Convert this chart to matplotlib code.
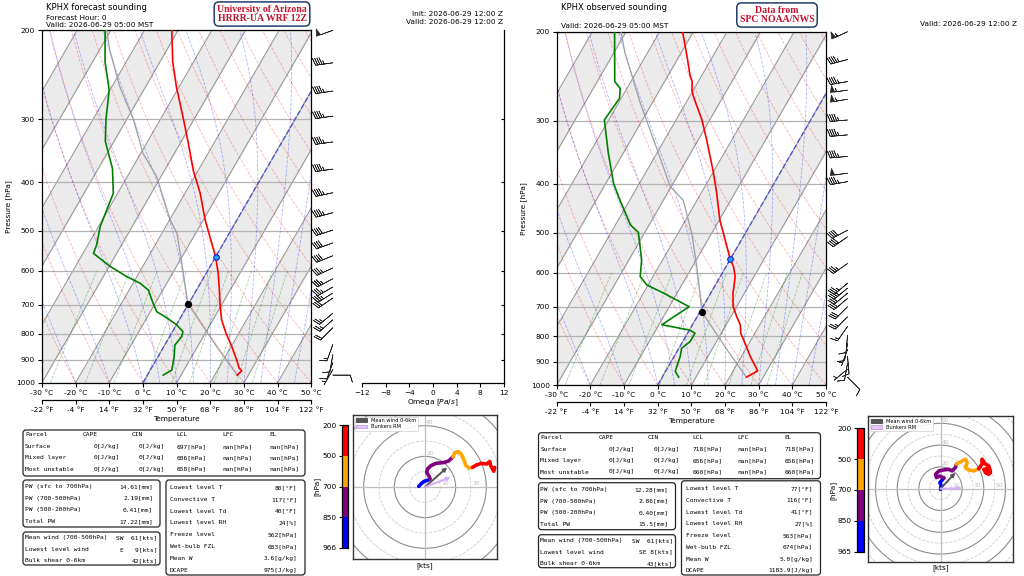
import numpy as np
import matplotlib
matplotlib.use('Agg')
import matplotlib.pyplot as plt
import matplotlib.transforms as mtransforms
from matplotlib.patches import FancyBboxPatch, Patch, Circle
from matplotlib.colors import ListedColormap, BoundaryNorm
from matplotlib.cm import ScalarMappable
from matplotlib.ticker import NullLocator

# ---------------- data ----------------
# forecast sounding (left)
p_T_fcst = [966, 947, 936, 901, 848, 798, 751, 700, 655, 607, 563, 514, 475, 421, 379, 335, 300, 259, 231, 200]
T_fcst = [26.7, 27.3, 26.1, 23.9, 20.2, 16.2, 12.6, 9.5, 6.8, 3.6, 0.0, -5.1, -9.5, -15.5, -21.5, -27.6, -33.2, -40.8, -46.2, -51.9]
p_Td_fcst = [966, 944, 888, 842, 810, 792, 768, 744, 723, 696, 655, 635, 616, 588, 554, 533, 490, 421, 376, 332, 300, 263, 231, 200]
Td_fcst = [4.7, 6.4, 4.8, 3.0, 3.6, 3.1, 0.1, -4.0, -8.1, -10.6, -14.3, -17.9, -23.0, -29.7, -36.9, -37.4, -39.5, -41.3, -45.8, -52.6, -56.2, -60.2, -66.3, -71.7]
p_par_fcst = [966, 850, 780, 697, 579, 505, 475, 390, 351, 300, 259, 219, 200]
T_par_fcst = [26.7, 15.9, 8.9, -0.2, -9.0, -15.6, -19.9, -31.3, -39.3, -48.1, -57.6, -66.9, -71.2]
lcl_fcst = (697, -0.2)
frz_fcst = (562, 0.0)

# observed sounding (right)
p_T_obs = [965, 938, 878, 827, 790, 760, 733, 700, 658, 639, 610, 583, 564, 501, 472, 418, 379, 328, 299, 269, 261, 251, 244, 224, 200]
T_obs = [25.0, 27.3, 22.6, 18.8, 15.8, 14.2, 11.8, 9.0, 6.6, 5.8, 4.4, 2.2, 0.0, -6.5, -9.8, -15.3, -20.0, -27.4, -32.3, -38.8, -40.4, -41.8, -43.5, -47.6, -53.2]
p_Td_obs = [965, 940, 920, 878, 846, 820, 790, 779, 760, 700, 658, 634, 610, 566, 499, 482, 431, 399, 348, 299, 271, 259, 251, 200]
Td_obs = [4.9, 2.9, 2.5, 1.8, 0.8, 2.2, 2.2, 0.2, -9.1, -4.1, -14.0, -20.4, -23.8, -26.2, -31.9, -35.6, -42.9, -47.7, -54.4, -61.3, -60.5, -62.0, -64.8, -73.4]
p_par_obs = [965, 850, 718, 583, 501, 431, 405, 348, 277, 221, 200]
T_par_obs = [25.0, 14.4, 0.7, -8.7, -15.9, -24.1, -30.3, -39.5, -53.5, -66.5, -71.5]
lcl_obs = (718, 0.7)
frz_obs = (563, 0.0)

# wind barbs
barb_p_fcst = [200, 232, 264, 296, 333, 377, 420, 460, 498, 528, 560, 592, 622, 646, 664, 679, 728, 750, 778, 840, 880, 912, 942, 966]
barb_spd_fcst = [50, 45, 45, 45, 45, 45, 45, 45, 40, 40, 40, 35, 35, 35, 35, 30, 25, 25, 20, 15, 10, 10, 5, 9]
barb_dir_fcst = [250, 262, 262, 262, 262, 262, 258, 255, 252, 250, 248, 245, 242, 240, 238, 235, 230, 228, 225, 200, 190, 200, 210, 90]
barb_p_obs = [200, 227, 251, 261, 272, 299, 320, 353, 381, 396, 494, 509, 575, 629, 643, 658, 674, 700, 733, 766, 797, 828, 850, 878, 905, 930, 965]
barb_spd_obs = [55, 45, 45, 55, 55, 45, 45, 45, 50, 45, 40, 40, 35, 35, 35, 30, 30, 30, 25, 15, 10, 10, 5, 10, 10, 5, 8]
barb_dir_obs = [245, 255, 260, 262, 260, 265, 265, 265, 262, 260, 242, 235, 235, 230, 230, 230, 230, 225, 225, 215, 185, 190, 200, 175, 190, 230, 135]

# hodographs (kts), layer 0 sfc-850, 1 850-700, 2 700-500, 3 500-200
hodo_u_fcst = [-4.1, -2.6, -0.4, 1.7, 3.2, 2.8, 1.1, 1.7, 3.8, 7.1, 12.4, 15.6, 18.2, 19.4, 21.6, 23.7, 25.2, 26.7, 28.8, 31.0, 33.8, 37.0, 40.2, 42.3, 42.9, 44.9, 45.5]
hodo_v_fcst = [0.4, 2.1, 3.8, 4.3, 5.3, 6.8, 9.6, 11.8, 13.9, 15.4, 16.0, 17.1, 19.7, 22.4, 23.1, 21.4, 18.2, 13.9, 12.4, 12.8, 14.5, 15.4, 15.0, 16.7, 13.9, 10.3, 12.8]
hodo_layer_fcst = [0, 0, 0, 0, 0, 1, 1, 1, 1, 1, 1, 1, 1, 2, 2, 2, 2, 2, 2, 2, 3, 3, 3, 3, 3, 3, 3]
hodo_u_obs = [0.0, 0.6, -0.6, 1.5, 3.1, -0.6, -3.7, -4.6, -1.5, 3.1, 7.7, 10.7, 13.8, 14.7, 18.4, 23.1, 24.6, 23.1, 26.2, 30.8, 35.3, 38.4, 38.4, 41.5, 44.6, 46.1, 44.6, 41.5, 40.0, 43.1, 46.1]
hodo_v_obs = [-0.6, 3.1, 5.6, 8.0, 9.9, 11.6, 10.2, 13.2, 16.3, 17.2, 17.8, 16.3, 19.4, 22.5, 24.6, 27.1, 24.0, 19.4, 17.2, 16.3, 18.4, 22.5, 27.1, 22.5, 20.9, 16.3, 13.2, 14.7, 17.8, 18.4, 14.7]
hodo_layer_obs = [0, 0, 0, 0, 0, 1, 1, 1, 1, 1, 1, 1, 1, 1, 2, 2, 2, 2, 2, 2, 2, 3, 3, 3, 3, 3, 3, 3, 3, 3, 3]
mean_wind_fcst = (14.5, 12.8)
bunkers_fcst = (16.7, 6.4)
mean_wind_obs = (13.8, 14.7)
bunkers_obs = (20.0, 0.6)
hodo_bounds_fcst = [200, 500, 700, 850, 966]
hodo_bounds_obs = [200, 500, 700, 850, 965]

# tables
parcel_names = ['Surface', 'Mixed layer', 'Most unstable']
cape_fcst = ['0', '0', '0']
cin_fcst = ['0', '0', '0']
lcl_p_fcst = ['697', '686', '658']
lfc_fcst = ['nan', 'nan', 'nan']
el_fcst = ['nan', 'nan', 'nan']
cape_obs = ['0', '0', '0']
cin_obs = ['0', '0', '0']
lcl_p_obs = ['718', '656', '660']
lfc_obs = ['nan', 'nan', 'nan']
el_obs = ['718', '656', '660']
pw_labels = ['PW (sfc to 700hPa)', 'PW (700-500hPa)', 'PW (500-200hPa)', 'Total PW']
pw_fcst = ['14.61', '2.19', '0.41', '17.22']
pw_obs = ['12.28', '2.86', '0.40', '15.5']
wind_labels = ['Mean wind (700-500hPa)', 'Lowest level wind', 'Bulk shear 0-6km']
wind_fcst = ['SW  61', 'E   9', '42']
wind_obs = ['SW  61', 'SE 8', '43']
stat_labels = ['Lowest level T', 'Convective T', 'Lowest level Td', 'Lowest level RH',
               'Freeze level', 'Wet-bulb FZL', 'Mean W', 'DCAPE']
stat_fcst = ['80[°F]', '117[°F]', '40[°F]', '24[%]', '562[hPa]', '683[hPa]', '3.6[g/kg]', '975[J/kg]']
stat_obs = ['77[°F]', '116[°F]', '41[°F]', '27[%]', '563[hPa]', '674[hPa]', '5.0[g/kg]', '1183.9[J/kg]']

# ---------------- figure ----------------
W, H = 1024, 576
fig = plt.figure(figsize=(W / 100, H / 100), dpi=100)
FS = 5.3


def px_axes(x0, y0, x1, y1, **kw):
    return fig.add_axes([x0 / W, 1 - y1 / H, (x1 - x0) / W, (y1 - y0) / H], **kw)


ov = fig.add_axes([0, 0, 1, 1], zorder=-5)
ov.set_xlim(0, W)
ov.set_ylim(H, 0)
ov.set_axis_off()


def moist_adiabat(t0, p):
    Rd, Cp, Lv, eps = 287.04, 1005.7, 2.501e6, 0.622

    def f(T, pp):
        es = 6.112 * np.exp(17.67 * (T - 273.15) / (T - 29.65))
        rs = eps * es / (pp - es)
        return (Rd * T + Lv * rs) / (pp * (Cp + Lv * Lv * rs * eps / (Rd * T * T)))

    T = t0 + 273.15
    out = [T]
    for i in range(1, len(p)):
        dp = p[i] - p[i - 1]
        k1 = f(T, p[i - 1])
        k2 = f(T + 0.5 * dp * k1, p[i - 1] + 0.5 * dp)
        T = T + dp * k2
        out.append(T)
    return np.array(out) - 273.15


def uv(spd, drc):
    d = np.deg2rad(np.array(drc, float))
    s = np.array(spd, float)
    return -s * np.sin(d), -s * np.cos(d)


def skewt(rect, pT, T, pTd, Td, ppar, Tpar, lcl, frz, bp, bs, bd):
    ax = px_axes(*rect)
    ax.set_yscale('log')
    ax.set_xlim(-30, 50)
    ax.set_ylim(1000, 200)
    b = ax.bbox
    st = ax.transData + mtransforms.Affine2D().translate(-b.x0, -b.y0).skew_deg(30, 0).translate(b.x0, b.y0)

    # shaded bands and isotherms
    for t1 in range(-100, 50, 20):
        ax.fill_betweenx([1000, 200], t1, t1 + 10, transform=st, color='#ebebeb', lw=0, zorder=0)
    for t in range(-100, 51, 10):
        ax.plot([t, t], [1000, 200], transform=st, color='0.6', lw=0.8, zorder=1)
    for pl in range(200, 1001, 100):
        ax.axhline(pl, color='0.7', lw=0.9, zorder=1)

    pl = np.linspace(1000, 200, 60)
    for th in np.arange(-40, 201, 10) + 273.15:
        ax.plot(th * (pl / 1000) ** 0.2857 - 273.15, pl, transform=st, color='red',
                ls='--', lw=0.6, alpha=0.3, zorder=1)
    for t0 in [-30, -20, -10, 0, 5, 10, 15, 20, 25, 30, 35, 40, 45, 50]:
        ax.plot(moist_adiabat(t0, pl), pl, transform=st, color='blue',
                ls='--', lw=0.6, alpha=0.3, zorder=1)
    pm = np.linspace(1000, 600, 20)
    for w in [0.0004, 0.001, 0.002, 0.004, 0.007, 0.01, 0.016, 0.024, 0.032]:
        e = pm * w / (0.622 + w)
        lg = np.log(e / 6.112)
        ax.plot(243.5 * lg / (17.67 - lg), pm, transform=st, color='green',
                ls='--', lw=0.6, alpha=0.35, zorder=1)
    ax.plot([0, 0], [1000, 200], transform=st, color='#4848d8', ls='--', lw=1.0, alpha=0.85, zorder=2)

    ax.plot(Tpar, ppar, transform=st, color='0.62', lw=0.9, zorder=3)
    ax.plot(T, pT, transform=st, color='red', lw=1.2, zorder=4)
    ax.plot(Td, pTd, transform=st, color='green', lw=1.2, zorder=4)
    ax.plot(lcl[1], lcl[0], 'o', transform=st, color='black', ms=4.2, zorder=5)
    ax.plot(frz[1], frz[0], 'o', transform=st, mfc='#1ea7ff', mec='#1a1ad0', mew=0.8, ms=4, zorder=5)

    u, v = uv(bs, bd)
    tb = mtransforms.blended_transform_factory(ax.transAxes, ax.transData)
    ax.barbs(np.full(len(bp), 1.08), bp, u, v, transform=tb, clip_on=False,
             length=5, linewidth=0.5, color='0.15')

    ax.set_yticks(range(200, 1001, 100), labels=[str(x) for x in range(200, 1001, 100)])
    ax.yaxis.set_minor_locator(NullLocator())
    ax.set_xticks(range(-30, 51, 10), labels=[f'{t} °C' for t in range(-30, 51, 10)])
    ax.tick_params(labelsize=FS, length=3, width=0.8, pad=2)
    ax.set_ylabel('Pressure [hPa]', fontsize=FS, labelpad=3)
    for s in ax.spines.values():
        s.set_linewidth(0.9)
    sec = ax.secondary_xaxis(-(17.3 / (rect[3] - rect[1])))
    sec.set_xticks(range(-30, 51, 10), labels=[f'{round(t * 9 / 5 + 32)} °F' for t in range(-30, 51, 10)])
    sec.tick_params(labelsize=FS, length=3, width=0.8, pad=2)
    sec.spines['bottom'].set_linewidth(0.9)
    sec.set_xlabel('Temperature', fontsize=FS, labelpad=2)
    return ax


def hodograph(rect, cbrect, rng, u, v, layer, mean, bunk, bounds):
    ax = px_axes(*rect)
    ax.set_xlim(-rng, rng)
    ax.set_ylim(-rng, rng)
    ax.set_xticks([])
    ax.set_yticks([])
    for s in ax.spines.values():
        s.set_linewidth(1.0)
        s.set_color('0.2')
    for r in range(10, int(rng * 1.5), 10):
        solid = r % 20 == 0
        ax.add_patch(Circle((0, 0), r, fill=False, ec='0.55' if solid else '0.8',
                            ls='-' if solid else '--', lw=0.8 if solid else 0.6, zorder=1))
        if r < rng:
            if solid:
                ax.text(0.8, r + 0.5, str(r), fontsize=4.3, color='0.75', ha='left', va='bottom', zorder=2)
            else:
                ax.text(r + 0.8, 0.5, str(r), fontsize=4.3, color='0.75', ha='left', va='bottom', zorder=2)
    ax.axhline(0, color='0.75', lw=0.9, zorder=1)
    ax.axvline(0, color='0.75', lw=0.9, zorder=1)
    u = np.array(u)
    v = np.array(v)
    layer = np.array(layer)
    cols = ['blue', 'purple', 'orange', 'red']
    prev = None
    for k in range(4):
        uu = list(u[layer == k])
        vv = list(v[layer == k])
        if prev is not None:
            uu = [prev[0]] + uu
            vv = [prev[1]] + vv
        ax.plot(uu, vv, color=cols[k], lw=2.6, solid_capstyle='round', solid_joinstyle='round', zorder=4)
        prev = (uu[-1], vv[-1])
    ax.annotate('', xy=mean, xytext=(0, 0), zorder=5,
                arrowprops=dict(arrowstyle='-|>', color='#555555', lw=1.4, mutation_scale=5, shrinkA=0, shrinkB=0))
    ax.annotate('', xy=bunk, xytext=(0, 0), zorder=5,
                arrowprops=dict(arrowstyle='-|>', color='#d4aef2', lw=1.4, mutation_scale=5, shrinkA=0, shrinkB=0))
    hd = [Patch(fc='#555555', ec='#333333', lw=0.5, label='Mean wind 0-6km'),
          Patch(fc='#e4c8fa', ec='#b98ee0', lw=0.5, label='Bunkers RM')]
    leg = ax.legend(handles=hd, loc='upper left', fontsize=3.6, handlelength=2.2, handleheight=0.8,
                    borderpad=0.3, labelspacing=0.25, framealpha=0.9, borderaxespad=0.3)
    leg.get_frame().set_linewidth(0.5)
    ax.set_xlabel('[kts]', fontsize=FS, labelpad=2)

    cax = px_axes(*cbrect)
    cmap = ListedColormap(['red', 'orange', 'purple', 'blue'])
    norm = BoundaryNorm(bounds, cmap.N)
    cb = fig.colorbar(ScalarMappable(norm=norm, cmap=cmap), cax=cax, ticks=bounds, spacing='uniform')
    cax.invert_yaxis()
    cax.yaxis.set_ticks_position('left')
    cax.yaxis.set_label_position('left')
    cax.tick_params(labelsize=FS, length=2.5, width=0.8, pad=1.5)
    cb.outline.set_linewidth(0.9)
    cb.set_label('[hPa]', fontsize=FS, labelpad=1)
    return ax


def rbox(x0, y0, x1, y1):
    ov.add_patch(FancyBboxPatch((x0, y0), x1 - x0, y1 - y0, boxstyle='round,pad=0,rounding_size=3',
                                fc='white', ec='0.15', lw=0.9, zorder=1))


def tables(ox, oy, oys, cape, cin, lclp, lfc, el, pw, wind, stat):
    mono = dict(family='DejaVu Sans Mono', fontsize=4.5, va='center', zorder=3)
    rbox(23 + ox, 430 + oy, 305 + ox, 476 + oy)
    hx = [25, 82.7, 131.7, 176.7, 222, 269]
    for name, x in zip(['Parcel', 'CAPE', 'CIN', 'LCL', 'LFC', 'EL'], hx):
        ov.text(x + ox, 435 + oy, name, ha='left', **mono)
    for i in range(3):
        y = 446.5 + 11.4 * i + oy
        ov.text(25 + ox, y, parcel_names[i], ha='left', **mono)
        ov.text(119.5 + ox, y, f'{cape[i]}[J/kg]', ha='right', **mono)
        ov.text(164.8 + ox, y, f'{cin[i]}[J/kg]', ha='right', **mono)
        ov.text(176.7 + ox, y, f'{lclp[i]}[hPa]', ha='left', **mono)
        ov.text(222 + ox, y, f'{lfc[i]}[hPa]', ha='left', **mono)
        ov.text(269 + ox, y, f'{el[i]}[hPa]', ha='left', **mono)

    rbox(23 + ox, 480 + oy, 160 + ox, 527 + oy)
    for i in range(4):
        y = 486.7 + 11.6 * i + oy
        ov.text(25 + ox, y, pw_labels[i], ha='left', **mono)
        ov.text(153 + ox, y, f'{pw[i]}[mm]', ha='right', **mono)

    rbox(23 + ox, 532 + oy, 160 + ox, 565 + oy)
    for i in range(3):
        y = 538 + 11.35 * i + oy
        ov.text(25 + ox, y, wind_labels[i], ha='left', **mono)
        ov.text(157.5 + ox, y, f'{wind[i]}[kts]', ha='right', **mono)

    rbox(166 + ox, 480 + oys, 305 + ox, 575)
    for i in range(8):
        y = 487.7 + 11.76 * i + oys
        ov.text(170 + ox, y, stat_labels[i], ha='left', **mono)
        ov.text(297.5 + ox, y, stat[i], ha='right', **mono)


# left: forecast
skewt((42, 30.3, 311.3, 382.7), p_T_fcst, T_fcst, p_Td_fcst, Td_fcst, p_par_fcst, T_par_fcst,
      lcl_fcst, frz_fcst, barb_p_fcst, barb_spd_fcst, barb_dir_fcst)

om = px_axes(362, 30.3, 504, 382.7)
om.set_yscale('log')
om.set_ylim(1000, 200)
om.set_xlim(-12, 12)
om.set_xticks(range(-12, 13, 4))
om.set_yticks(range(300, 1000, 100), labels=[])
om.yaxis.set_minor_locator(NullLocator())
om.yaxis.tick_right()
om.tick_params(axis='y', direction='in', length=2.5, width=0.8)
om.tick_params(axis='x', labelsize=FS, length=3, width=0.8, pad=2)
om.spines['left'].set_visible(False)
om.spines['top'].set_visible(False)
om.spines['right'].set_linewidth(0.9)
om.spines['bottom'].set_linewidth(0.9)
om.set_xlabel('Omega [$Pa/s$]', fontsize=FS, labelpad=1)

hodograph((353, 415, 497, 559), (342, 425, 348, 548), 47, hodo_u_fcst, hodo_v_fcst, hodo_layer_fcst,
          mean_wind_fcst, bunkers_fcst, hodo_bounds_fcst)
tables(0, 0, 0, cape_fcst, cin_fcst, lcl_p_fcst, lfc_fcst, el_fcst, pw_fcst, wind_fcst, stat_fcst)

# right: observed
skewt((556.7, 31.7, 826, 385), p_T_obs, T_obs, p_Td_obs, Td_obs, p_par_obs, T_par_obs,
      lcl_obs, frz_obs, barb_p_obs, barb_spd_obs, barb_dir_obs)
hodograph((868, 415.7, 1013, 561.7), (857.3, 428.3, 864, 551.7), 67, hodo_u_obs, hodo_v_obs, hodo_layer_obs,
          mean_wind_obs, bunkers_obs, hodo_bounds_obs)
tables(515.5, 2.7, 0.8, cape_obs, cin_obs, lcl_p_obs, lfc_obs, el_obs, pw_obs, wind_obs, stat_obs)

# headers
ov.text(45.7, 7, 'KPHX forecast sounding', fontsize=6, ha='left', va='center')
ov.text(45.7, 17.8, 'Forecast Hour: 0', fontsize=FS, ha='left', va='center')
ov.text(45.7, 25, 'Valid: 2026-06-29 05:00 MST', fontsize=FS, ha='left', va='center')
ov.text(503.3, 14, 'Init: 2026-06-29 12:00 Z', fontsize=FS, ha='right', va='center')
ov.text(503.3, 22, 'Valid: 2026-06-29 12:00 Z', fontsize=FS, ha='right', va='center')
ov.text(560.7, 7.8, 'KPHX observed sounding', fontsize=6, ha='left', va='center')
ov.text(560.7, 25.8, 'Valid: 2026-06-29 05:00 MST', fontsize=FS, ha='left', va='center')
ov.text(1016.7, 24, 'Valid: 2026-06-29 12:00 Z', fontsize=FS, ha='right', va='center')
badge = dict(boxstyle='round,pad=0.3,rounding_size=0.5', fc='white', ec='#243c6c', lw=1.1)
ov.text(262, 14, 'University of Arizona\nHRRR-UA WRF 12Z', fontsize=7.0, family='Liberation Serif',
        weight='bold', color='#c8102e', ha='center', va='center', linespacing=1.05, bbox=badge)
ov.text(777, 15, 'Data from\nSPC NOAA/NWS', fontsize=7.0, family='Liberation Serif',
        weight='bold', color='#c8102e', ha='center', va='center', linespacing=1.05, bbox=badge)

fig.savefig('out.png', dpi=100)
